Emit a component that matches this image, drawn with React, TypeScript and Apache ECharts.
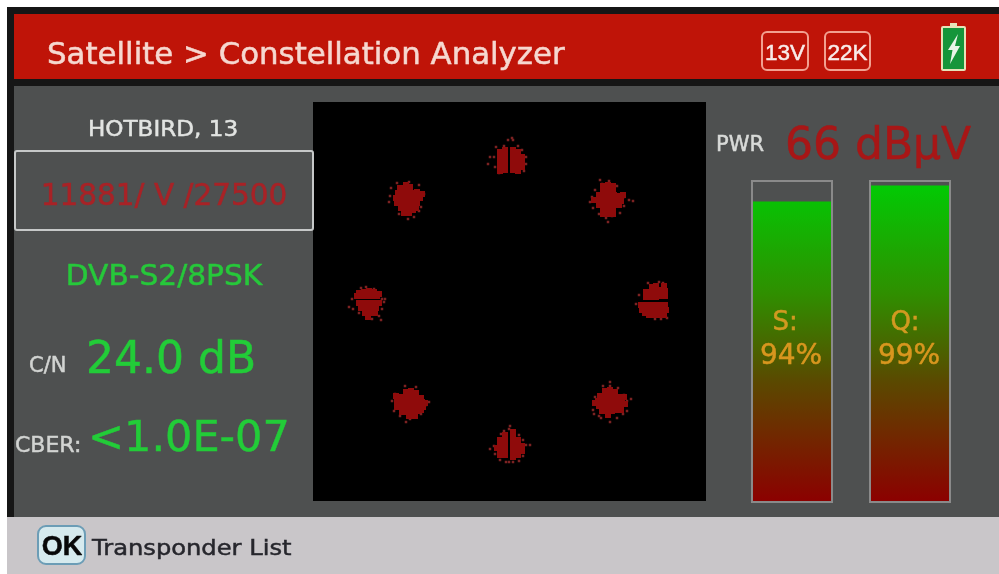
import React, { useEffect, useRef } from "react";
import * as echarts from "echarts";

const levelCategories = ["S", "Q"];
const levelValues = [94, 99];

const title = "Satellite > Constellation Analyzer";
const satellite = "HOTBIRD, 13";
const transponder = "11881/ V /27500";
const standard = "DVB-S2/8PSK";
const carrierNoise = "24.0 dB";
const bitErrorRate = "<1.0E-07";
const power = "66 dBµV";

// Symbol clouds: dense cores and sparse fringes.
const topCore = [[-9,146],[-4,148],[-9,141],[-4,143],[-9,136],[-4,138],[-9,131],[-4,133],[-4,128],[-9,127],[4,148],[9,146],[4,143],[9,141],[13,141],[4,138],[9,136],[13,136],[4,133],[9,131],[13,131],[4,128],[9,127]];
const topFringe = [[-15,141],[-13,151],[-1,158],[4,158],[-5,152],[9,152],[13,148],[17,141],[17,134],[-14,131],[15,127],[-10,125],[3,160],[-19,141],[-21,134]];
const topRightCore = [[94,108],[99,109],[104,108],[90,103],[95,103],[100,104],[105,103],[110,102],[88,98],[93,98],[98,98],[103,98],[108,98],[112,97],[90,93],[95,93],[100,93],[105,93],[110,93],[94,88],[99,88],[104,88],[99,113],[94,112],[104,112],[99,84],[94,84],[104,84],[114,103],[85,98]];
const topRightFringe = [[91,118],[100,117],[108,112],[86,108],[83,101],[81,96],[115,101],[120,98],[124,97],[115,92],[84,90],[90,84],[97,80],[103,82],[111,85],[99,76],[93,114]];
const rightCore = [[137,6],[142,6],[147,7],[152,8],[155,12],[137,1],[142,1],[147,1],[152,2],[156,2],[147,12],[143,11],[156,7],[132,-7],[137,-7],[142,-7],[147,-7],[152,-7],[156,-7],[133,-12],[138,-12],[143,-12],[148,-12],[153,-12],[157,-12],[140,-17],[145,-17],[150,-17],[155,-17],[136,-15]];
const rightFringe = [[130,3],[127,-6],[154,15],[150,16],[158,-20],[146,-21],[152,-21],[139,15]];
const bottomRightCore = [[96,-93],[101,-92],[106,-94],[91,-98],[96,-98],[101,-98],[106,-98],[111,-99],[89,-103],[94,-103],[99,-103],[104,-103],[109,-103],[113,-104],[90,-108],[95,-108],[100,-108],[105,-108],[110,-108],[93,-113],[98,-113],[103,-113],[108,-112],[99,-117],[115,-99],[116,-106],[86,-105],[112,-112]];
const bottomRightFringe = [[101,-84],[101,-88],[94,-88],[109,-90],[115,-97],[118,-103],[122,-101],[86,-99],[84,-112],[85,-116],[90,-118],[92,-120],[101,-124],[108,-120],[114,-116],[118,-113]];
const bottomCore = [[-4,-137],[-4,-142],[-9,-142],[-4,-147],[-9,-147],[-4,-152],[-9,-152],[-12,-150],[-4,-157],[-9,-157],[4,-134],[4,-139],[4,-144],[9,-142],[4,-149],[9,-147],[13,-148],[4,-154],[9,-152],[13,-153],[4,-159],[9,-157]];
const bottomFringe = [[0,-131],[1,-128],[-5,-133],[-8,-136],[10,-137],[14,-142],[17,-147],[21,-147],[-15,-148],[-19,-151],[-14,-156],[14,-158],[10,-163],[4,-164],[-3,-164],[-9,-162],[0,-164]];
const bottomLeftCore = [[-103,-94],[-98,-93],[-93,-95],[-108,-99],[-103,-99],[-98,-99],[-93,-99],[-88,-100],[-112,-104],[-107,-104],[-102,-104],[-97,-104],[-92,-104],[-87,-104],[-112,-109],[-107,-109],[-102,-109],[-97,-109],[-92,-109],[-86,-109],[-107,-114],[-102,-114],[-97,-114],[-92,-113],[-100,-118],[-94,-118],[-84,-105],[-88,-112],[-113,-98]];
const bottomLeftFringe = [[-93,-89],[-104,-88],[-117,-103],[-114,-96],[-109,-118],[-103,-124],[-99,-121],[-88,-116],[-80,-104],[-115,-113],[-83,-107]];
const leftCore = [[-150,5],[-145,6],[-140,7],[-135,6],[-130,4],[-152,2],[-147,2],[-142,2],[-137,2],[-132,2],[-150,-5],[-145,-5],[-140,-5],[-135,-5],[-130,-5],[-148,-10],[-143,-10],[-138,-10],[-133,-10],[-144,-15],[-139,-15],[-134,-15],[-141,-19]];
const leftFringe = [[-143,11],[-148,10],[-135,9],[-157,-1],[-127,-1],[-124,-1],[-160,-9],[-156,-11],[-150,-15],[-130,-18],[-127,-11],[-125,-4],[-137,-21],[-128,-22]];
const topLeftCore = [[-109,110],[-104,109],[-99,111],[-111,105],[-106,105],[-101,105],[-96,105],[-92,106],[-113,100],[-108,100],[-103,100],[-98,100],[-93,100],[-89,100],[-112,95],[-107,95],[-102,95],[-97,95],[-92,95],[-108,90],[-103,90],[-98,90],[-93,90],[-105,85],[-100,85],[-87,104],[-96,88],[-103,113]];
const topLeftFringe = [[-112,115],[-100,116],[-90,113],[-118,110],[-119,102],[-120,96],[-85,104],[-88,91],[-90,87],[-110,84],[-101,79],[-95,81]];

const coreSymbols = [topCore, topRightCore, rightCore, bottomRightCore, bottomCore, bottomLeftCore, leftCore, topLeftCore].flat();
const fringeSymbols = [topFringe, topRightFringe, rightFringe, bottomRightFringe, bottomFringe, bottomLeftFringe, leftFringe, topLeftFringe].flat();

const SANS = '"DejaVu Sans"';
const ARIAL = '"Liberation Sans"';

function label(text: string, x: number, y: number, size: number, fill: string, extra: any = {}) {
  const { align = "left", family = SANS, weight = "normal", scaleX = 1, heavy = 0.5 } = extra;
  return {
    type: "text",
    x,
    y,
    scaleX,
    z: 20,
    style: {
      text,
      fill,
      stroke: fill,
      lineWidth: heavy,
      font: `${weight} ${size}px ${family}`,
      textAlign: align,
      textVerticalAlign: "middle",
    },
  };
}

function box(x: number, y: number, width: number, height: number, fill: string, z = -5, stroke?: string, lineWidth = 0, r = 0) {
  return {
    type: "rect",
    z,
    shape: { x, y, width, height, r },
    style: { fill, stroke: stroke || "none", lineWidth },
  };
}

export default function App() {
  const ref = useRef<HTMLDivElement>(null);
  useEffect(() => {
    document.body.style.margin = "0";
    document.body.style.background = "#fff";
    const chart = echarts.init(ref.current as HTMLDivElement, undefined, { renderer: "svg" });
    const barTop = 181;
    const barBottom = 502;
    const gradient = {
      type: "linear",
      x: 0,
      y: barTop,
      x2: 0,
      y2: barBottom,
      global: true,
      colorStops: [
        { offset: 0, color: "#00cc04" },
        { offset: 0.35, color: "#2f8f00" },
        { offset: 0.62, color: "#5a4a00" },
        { offset: 1, color: "#8c0000" },
      ],
    };
    chart.setOption({
      animation: false,
      backgroundColor: "#ffffff",
      tooltip: { show: false },
      grid: [
        { left: 313, top: 102, width: 393, height: 399, show: true, backgroundColor: "#000", borderWidth: 0 },
        { left: 733.25, top: barTop, width: 235, height: barBottom - barTop },
      ],
      xAxis: [
        { type: "value", gridIndex: 0, min: -196, max: 197, show: false },
        { type: "category", gridIndex: 1, data: levelCategories, show: false },
      ],
      yAxis: [
        { type: "value", gridIndex: 0, min: -203, max: 196, show: false },
        { type: "value", gridIndex: 1, min: 0, max: 100.4, show: false },
      ],
      series: [
        {
          type: "scatter",
          xAxisIndex: 0,
          yAxisIndex: 0,
          data: fringeSymbols,
          symbol: "rect",
          symbolSize: 2.5,
          itemStyle: { color: "#7c2222", opacity: 1 },
          silent: true,
        },
        {
          type: "scatter",
          xAxisIndex: 0,
          yAxisIndex: 0,
          data: coreSymbols,
          symbol: "rect",
          symbolSize: 6,
          itemStyle: { color: "#8f0b0b", opacity: 1 },
          silent: true,
        },
        {
          type: "bar",
          xAxisIndex: 1,
          yAxisIndex: 1,
          data: levelValues,
          barWidth: 80,
          itemStyle: { color: gradient },
          silent: true,
        },
      ],
      graphic: {
        elements: [
          box(7, 7, 992, 510, "#161616", -10),
          box(14, 14, 985, 65, "#bf1408", -9),
          box(14, 86, 985, 431, "#4e5050", -9),
          box(7, 517, 992, 57, "#c9c6c9", -9),
          box(15, 151, 298, 79, "none", 5, "#c6c8c8", 2, 2),
          box(752, barTop, 80, barBottom - barTop, "none", 5, "#8a8a8a", 2),
          box(870, barTop, 80, barBottom - barTop, "none", 5, "#8a8a8a", 2),
          box(762, 32, 46, 38, "none", 5, "#f2a090", 2, 5),
          box(825, 32, 45, 38, "none", 5, "#f2a090", 2, 5),
          box(942, 27, 23, 43, "#15953a", 5, "#e6e2b8", 2, 1),
          box(950, 23, 7, 4, "#e6e2b8", 5),
          {
            type: "polygon",
            z: 6,
            shape: { points: [[958, 34], [948, 50], [952.5, 50], [950, 64], [960, 46], [955, 46]] },
            style: { fill: "#e8f4e8" },
          },
          box(38, 526, 47, 38, "#d6eaee", 5, "#6c9db6", 2, 8),
          label(title, 47, 54, 30, "#f6d8d0", { scaleX: 1.028 }),
          label("13V", 785, 52, 22.5, "#f8ecea", { align: "center", family: ARIAL }),
          label("22K", 847.5, 52, 22.5, "#f8ecea", { align: "center", family: ARIAL }),
          label(satellite, 163, 129, 21, "#e2e4e2", { align: "center", scaleX: 1.1 }),
          label(transponder, 164, 195, 29.5, "#a82226", { align: "center" }),
          label(standard, 164, 275, 28, "#26c83a", { align: "center", scaleX: 1.06 }),
          label("C/N", 29, 365, 21, "#d2d4d2"),
          label(carrierNoise, 86, 357, 44, "#22cc38"),
          label("CBER:", 15, 444, 22, "#d2d4d2"),
          label(bitErrorRate, 88, 436, 43, "#22cc38"),
          label("PWR", 716, 144, 21, "#d8dad8"),
          label(power, 785, 143, 44, "#a81616"),
          label("S:", 785, 321, 26, "#d29a20", { align: "center" }),
          label(`${levelValues[0]}%`, 791, 354, 28, "#d8961e", { align: "center" }),
          label("Q:", 905, 321, 26, "#d29a20", { align: "center" }),
          label(`${levelValues[1]}%`, 909, 354, 28, "#d8961e", { align: "center" }),
          label("OK", 62, 546, 27, "#080808", { align: "center", family: ARIAL, weight: "bold" }),
          label("Transponder List", 92, 547, 22, "#26262c", { scaleX: 1.1 }),
        ],
      },
    });
    return () => chart.dispose();
  }, []);
  return <div ref={ref} style={{ width: 999, height: 574, filter: "blur(0.5px)" }} />;
}
